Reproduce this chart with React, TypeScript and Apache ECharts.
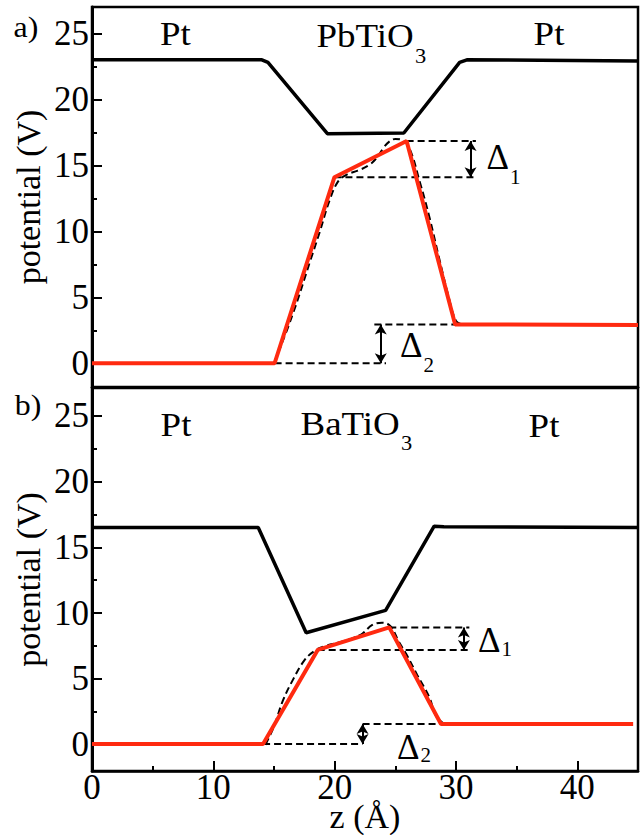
import React, { useEffect, useRef } from "react";
import * as echarts from "echarts";

const FONT = "Liberation Serif";

// axis ticks
const zTicks = [0, 10, 20, 30, 40];
const yTicks = [0, 5, 10, 15, 20, 25];
const yMinor = [2.5, 7.5, 12.5, 17.5, 22.5];

// panel a) PbTiO3
const pbtBlack = [[0, 23.0], [14.0, 23.0], [14.5, 22.8], [19.4, 17.4], [25.7, 17.45], [30.3, 22.8], [30.9, 23.0], [45, 22.9]];
const pbtRed = [[0, 0], [15.05, 0], [19.98, 14.1], [25.93, 16.85], [29.93, 2.94], [45, 2.9]];
const pbtDash = [[15.0, 0], [16.5, 3.6], [18.0, 7.8], [18.75, 9.9], [19.6, 12.4], [20.3, 13.8], [21.0, 14.3], [21.9, 14.6], [22.8, 15.0], [23.5, 15.6], [24.0, 16.3], [24.5, 16.8], [25.0, 17.0], [25.6, 16.9], [26.2, 16.2], [27.0, 13.8], [27.8, 11.1], [28.6, 8.0], [29.4, 5.0], [30.0, 3.2], [30.5, 2.94]];
const pbtD1Top = [[25.93, 16.85], [31.64, 16.85]];
const pbtD1Bot = [[19.98, 14.1], [31.64, 14.1]];
const pbtD2Top = [[23.27, 2.94], [29.93, 2.94]];
const pbtD2Bot = [[15.05, 0], [24.23, 0]];
const pbtArrow1 = [31.2, 14.1, 16.85];
const pbtArrow2 = [23.8, 0, 2.94];

// panel b) BaTiO3
const btoBlack = [[0, 16.5], [13.7, 16.5], [17.65, 8.5], [24.2, 10.2], [28.2, 16.6], [29.0, 16.55], [45, 16.5]];
const btoRed = [[0, 0.05], [14.1, 0.05], [18.6, 7.2], [24.5, 8.91], [28.76, 1.57], [44.6, 1.57]];
const btoDash = [[14.3, 0], [15.0, 1.4], [15.73, 3.34], [16.6, 5.0], [17.5, 6.4], [18.3, 7.1], [19.2, 7.5], [20.5, 7.8], [21.5, 8.1], [22.3, 8.45], [23.1, 9.1], [23.9, 9.27], [24.6, 9.0], [25.3, 7.8], [25.9, 6.89], [26.8, 5.3], [27.8, 3.6], [28.35, 2.2], [29.0, 1.6]];
const btoD1Top = [[24.5, 8.91], [31.1, 8.91]];
const btoD1Bot = [[18.6, 7.2], [31.1, 7.2]];
const btoD2Top = [[22.3, 1.57], [28.76, 1.57]];
const btoD2Bot = [[14.1, 0.05], [22.3, 0.05]];
const btoArrow1 = [30.65, 7.2, 8.91];
const btoArrow2 = [22.3, 0.05, 1.57];

const RED = "#ff2a10";

function subText(main: string, sub: string, left: number, capY: number, M: number, S: number, drop: number, sx: number) {
  const pad = Math.max(0, drop + M / 2 - S / 2);
  return {
    type: "text",
    x: left,
    y: capY - M / 2,
    scaleX: sx,
    style: {
      text: `{m|${main}}{s|${sub}}`,
      align: "left",
      verticalAlign: "top",
      rich: {
        m: { fontSize: M, fontFamily: FONT, lineHeight: M, verticalAlign: "top", fill: "#000" },
        s: { fontSize: S, fontFamily: FONT, padding: [pad, 0, 0, 1], verticalAlign: "bottom", fill: "#000" },
      },
    },
  };
}

function plainText(t: string, cx: number, cy: number, size: number, sx: number) {
  return {
    type: "text",
    x: cx,
    y: cy,
    scaleX: sx,
    style: { text: t, fontSize: size, fontFamily: FONT, align: "center", verticalAlign: "middle", fill: "#000" },
  };
}

function panelSeries(gi: number, black: number[][], red: number[][], dash: number[][], refs: number[][][], arrows: number[][]) {
  const xi = gi;
  const yi = gi * 2;
  const dashStyle = { color: "#000", width: 2, type: [7, 4] };
  const list: any[] = [
    { type: "line", xAxisIndex: xi, yAxisIndex: yi, data: black, symbol: "none", z: 3, lineStyle: { color: "#000", width: 3.5 } },
    { type: "line", xAxisIndex: xi, yAxisIndex: yi, data: dash, symbol: "none", smooth: 0.4, z: 2, lineStyle: dashStyle },
    { type: "line", xAxisIndex: xi, yAxisIndex: yi, data: red, symbol: "none", z: 4, lineStyle: { color: RED, width: 4 } },
  ];
  refs.forEach((r, i) => {
    const s: any = { type: "line", xAxisIndex: xi, yAxisIndex: yi, data: r, symbol: "none", z: 2, lineStyle: dashStyle };
    if (i === 0) {
      s.markLine = {
        silent: true,
        symbol: ["arrow", "arrow"],
        symbolSize: [9, 10],
        label: { show: false },
        lineStyle: { color: "#000", width: 2, type: "solid" },
        data: arrows.map((a) => [{ coord: [a[0], a[1]] }, { coord: [a[0], a[2]] }]),
      };
    }
    list.push(s);
  });
  return list;
}

export default function App() {
  const ref = useRef<HTMLDivElement>(null);
  useEffect(() => {
    document.body.style.margin = "0";
    if (!ref.current) return;
    const chart = echarts.init(ref.current, null, { renderer: "svg" });
    const grids = [
      { left: 92, top: 7, right: 4, height: 380 },
      { left: 92, top: 388, right: 4, height: 383 },
    ];
    const yRanges = [
      [-1.8, 27],
      [-2.0, 27.1],
    ];
    const xAxes = [0, 1].map((i) => ({
      type: "value",
      gridIndex: i,
      position: "bottom",
      min: 0,
      max: 45,
      interval: 10,
      splitLine: { show: false },
      axisLine: { show: true, onZero: false, lineStyle: { color: "#000", width: 2.5 } },
      axisTick: { show: i === 1, inside: true, length: 10, lineStyle: { color: "#000", width: 2 } },
      minorTick: { show: i === 1, splitNumber: 2, length: 5, lineStyle: { color: "#000", width: 2 } },
      axisLabel: { show: i === 1, fontFamily: FONT, fontSize: 35, color: "#000", margin: -1, customValues: zTicks },
      name: i === 1 ? "z (Å)" : "",
      nameLocation: "middle",
      nameGap: 28,
      nameMoveOverlap: false,
      nameTextStyle: { fontFamily: FONT, fontSize: 34, color: "#000" },
    }));
    const yAxes: any[] = [];
    [0, 1].forEach((i) => {
      yAxes.push({
        type: "value",
        gridIndex: i,
        position: "left",
        min: yRanges[i][0],
        max: yRanges[i][1],
        splitLine: { show: false },
        axisLine: { show: true, onZero: false, lineStyle: { color: "#000", width: 3 } },
        axisTick: { show: true, inside: true, length: 10, customValues: yTicks, lineStyle: { color: "#000", width: 2 } },
        axisLabel: { fontFamily: FONT, fontSize: 35, color: "#000", margin: 3, customValues: yTicks },
        name: "potential (V)",
        nameLocation: "middle",
        nameGap: 47,
        nameMoveOverlap: false,
        nameTextStyle: { fontFamily: FONT, fontSize: 34, color: "#000" },
      });
      yAxes.push({
        type: "value",
        gridIndex: i,
        position: "left",
        min: yRanges[i][0],
        max: yRanges[i][1],
        splitLine: { show: false },
        axisLine: { show: false, onZero: false },
        axisTick: { show: true, inside: true, length: 5, customValues: yMinor, lineStyle: { color: "#000", width: 2 } },
        axisLabel: { show: false },
      });
    });
    const graphic = [
      plainText("a)", 26, 27, 29, 1.1),
      plainText("b)", 28, 405, 29, 1.1),
      plainText("Pt", 175.3, 34.2, 33, 1.12),
      plainText("Pt", 549, 34, 33, 1.12),
      subText("PbTiO", "3", 316.5, 35.8, 33, 20, 21, 1.12),
      plainText("Pt", 176, 425, 33, 1.12),
      plainText("Pt", 544, 426, 33, 1.12),
      subText("BaTiO", "3", 300.5, 424.2, 33, 20, 19, 1.12),
      subText("Δ", "1", 486.5, 157.2, 35, 21, 20, 1),
      subText("Δ", "2", 400, 345.8, 35, 21, 19, 1),
      subText("Δ", "1", 478, 640.8, 35, 21, 8.5, 1),
      subText("Δ", "2", 397, 747.5, 35, 21, 7.5, 1),
    ];
    const series = [
      ...panelSeries(0, pbtBlack, pbtRed, pbtDash, [pbtD1Top, pbtD1Bot, pbtD2Top, pbtD2Bot], [pbtArrow1, pbtArrow2]),
      ...panelSeries(1, btoBlack, btoRed, btoDash, [btoD1Top, btoD1Bot, btoD2Top, btoD2Bot], [btoArrow1, btoArrow2]),
    ];
    chart.setOption({
      animation: false,
      backgroundColor: "#fff",
      grid: grids.map((g) => ({
        ...g,
        show: true,
        containLabel: false,
        outerBoundsMode: "none",
        borderColor: "#000",
        borderWidth: 2.5,
        backgroundColor: "transparent",
      })),
      xAxis: xAxes,
      yAxis: yAxes,
      series,
      graphic,
    } as any);
    return () => chart.dispose();
  }, []);
  return <div ref={ref} style={{ width: 642, height: 835 }} />;
}
